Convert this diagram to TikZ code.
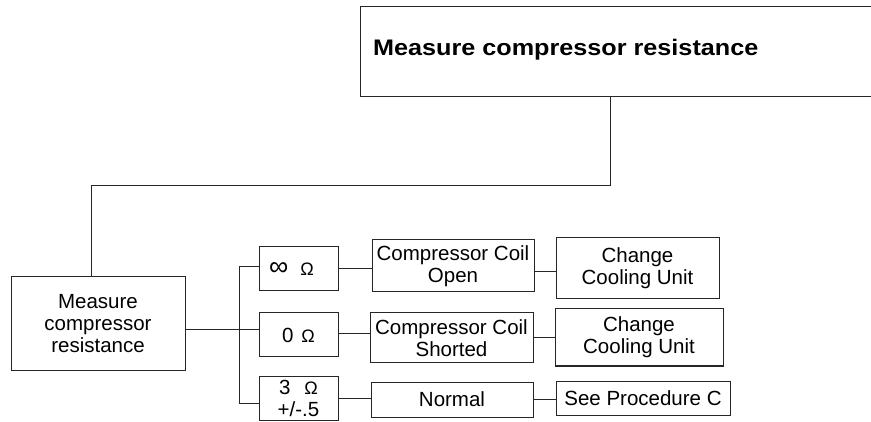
\documentclass[tikz,border=0pt]{standalone}
\usepackage{fontspec}
\setmainfont{Liberation Sans}
\usepackage{graphicx}
\begin{document}
\begin{tikzpicture}[x=1pt,y=-1pt,
  every node/.style={font=\fontsize{20.5}{22}\selectfont},
  box/.style={draw=black!85, line width=1pt, inner sep=0pt, align=center},
  wire/.style={draw=black!85, line width=1pt}]
\clip (0,0) rectangle (871,422);
\fill[white] (0,0) rectangle (871,422);
% boxes
\node[box, minimum width=520, minimum height=90] (top) at (620,52) {};
\node[anchor=base west, inner sep=0pt] (toptext) at (373,56)
  {\scalebox{1.12}[1]{\fontsize{22.5}{26}\selectfont\bfseries Measure compressor resistance}};
\node[box, minimum width=174, minimum height=93] (lb) at (98,323.5) {Measure\\compressor\\resistance};
\node[box, minimum width=79, minimum height=44] (inf) at (298.5,269) {\hspace{-14pt}\fontsize{27}{22}\selectfont ∞\hspace{12pt}{\fontsize{18}{15}\selectfont Ω}};
\node[box, minimum width=79, minimum height=44] (zero) at (298.5,335) {0\hspace{8pt}{\fontsize{18}{15}\selectfont Ω}};
\node[box, minimum width=79, minimum height=44] (three) at (298.5,398) {3\hspace{14pt}{\fontsize{18}{15}\selectfont Ω}\\+/-.5};
\node[box, minimum width=162, minimum height=52] (ccopen) at (453,266) {Compressor Coil\\Open};
\node[box, minimum width=163, minimum height=50] (ccshort) at (451.5,338) {Compressor Coil\\Shorted};
\node[box, minimum width=162, minimum height=35] (normal) at (452,399.5) {Normal};
\node[box, minimum width=163, minimum height=61] (ccuA) at (637.5,268.5) {Change\\Cooling Unit};
\node[box, minimum width=168, minimum height=57] (ccuB) at (639,337.5) {Change\\Cooling Unit};
\node[box, minimum width=174, minimum height=34] (seeproc) at (643,398) {See Procedure C};
% helper coordinates
\coordinate (tapA) at (610,0);
\coordinate (tapB) at (91,186);
\coordinate (sA) at (239,267);
\coordinate (sM) at (239,330);
\coordinate (sB) at (239,403);
\coordinate (rA1) at (0,269);
\coordinate (rA2) at (0,272);
\coordinate (rB1) at (0,334);
\coordinate (rB2) at (0,338);
\coordinate (rC1) at (0,398);
\coordinate (rC2) at (0,399);
% connectors
\draw[wire] (top.south -| tapA) |- (tapB) -- (lb.north -| tapB);
\draw[wire] (lb.east |- sM) -- (zero.west |- sM);
\draw[wire] (inf.west |- sA) -- (sA) -- (sB) -- (three.west |- sB);
\draw[wire] (inf.east |- rA1) -- (ccopen.west |- rA1);
\draw[wire] (ccopen.east |- rA2) -- (ccuA.west |- rA2);
\draw[wire] (zero.east |- rB1) -- (ccshort.west |- rB1);
\draw[wire] (ccshort.east |- rB2) -- (ccuB.west |- rB2);
\draw[wire] (three.east |- rC1) -- (normal.west |- rC1);
\draw[wire] (normal.east |- rC2) -- (seeproc.west |- rC2);
\end{tikzpicture}
\end{document}
